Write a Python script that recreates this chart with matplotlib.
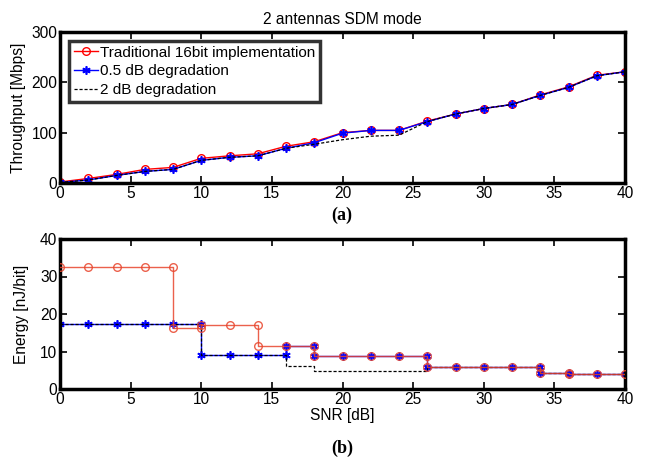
import numpy as np
import matplotlib.pyplot as plt

plt.rcParams['font.family'] = ['Liberation Sans', 'DejaVu Sans']

# throughput vs SNR (top panel)
snr = [0, 2, 4, 6, 8, 10, 12, 14, 16, 18, 20, 22, 24, 26, 28, 30, 32, 34, 36, 38, 40]
thr_16bit = [2, 9, 17, 27, 31, 49, 54, 58, 73, 82, 100, 104.5, 104.5, 123, 137, 148, 156, 175, 191, 214, 221]
thr_05db = [1, 6, 15, 23, 27, 45, 51, 54, 69, 80, 99, 104.5, 104.5, 122, 137, 148, 156, 174, 190, 213, 221]
thr_2db = [1, 6, 15, 23, 27, 45, 51, 54, 69, 77, 86, 93, 95, 122, 137, 148, 156, 174, 190, 213, 221]

# energy per bit vs SNR (bottom panel), steps drawn with repeated x
e_16bit_x = [0, 2, 4, 6, 8, 8, 10, 10, 12, 14, 14, 16, 18, 18, 20, 22, 24, 26, 26, 28, 30, 32, 34, 34, 36, 36, 38, 40]
e_16bit_y = [32.5, 32.5, 32.5, 32.5, 32.5, 16.2, 16.2, 17.1, 17.1, 17.1, 11.5, 11.5, 11.5,
             8.8, 8.8, 8.8, 8.8, 8.8, 5.9, 5.9, 5.9, 5.9, 5.9, 4.4, 4.4, 3.9, 3.9, 3.9]
e_05db_x = [0, 2, 4, 6, 8, 10, 10, 12, 14, 16, 16, 18, 18, 20, 22, 24, 26, 26, 28, 30, 32, 34, 34, 36, 36, 38, 40]
e_05db_y = [17.4] * 6 + [9.0] * 4 + [11.5] * 2 + [8.8] * 5 + [5.9] * 5 + [4.4] * 2 + [3.9] * 3
e_2db_x = [0, 2, 4, 6, 8, 10, 10, 12, 14, 16, 16, 18, 18, 20, 22, 24, 26, 26, 28, 30, 32, 34, 34, 36, 36, 38, 40]
e_2db_y = [17.4] * 6 + [9.0] * 4 + [6.2] * 2 + [4.8] * 5 + [5.9] * 5 + [4.4] * 2 + [3.9] * 3

star = (6, 2, 0)  # asterisk marker like matlab '*'

fig = plt.figure(figsize=(6.45, 4.59), dpi=100)
W, H = 645, 459
ax1 = fig.add_axes([60 / W, 1 - 183 / H, 565 / W, 151 / H])
ax2 = fig.add_axes([60 / W, 1 - 389 / H, 565 / W, 150 / H])

ax1.plot(snr, thr_16bit, '-o', color='red', mfc='none', ms=5.5, lw=1, label='Traditional 16bit implementation')
ax1.plot(snr, thr_05db, '-', marker=star, color='blue', ms=6, mew=1.2, lw=1, label='0.5 dB degradation')
ax1.plot(snr, thr_2db, '--', color='black', lw=0.9, dashes=(2.5, 1.5), label='2 dB degradation')

# bottom: red curve sits on top of the blue one
ax2.plot(e_05db_x, e_05db_y, '-', marker=star, color='blue', ms=6, mew=1.2, lw=1, zorder=2)
ax2.plot(e_2db_x, e_2db_y, '--', color='black', lw=0.9, dashes=(2.5, 1.5), zorder=3)
ax2.plot(e_16bit_x, e_16bit_y, '-o', color='#e8452c', mfc='none', ms=5.5, lw=1, alpha=0.85, zorder=4)

ax1.set_ylim(0, 300)
ax1.set_yticks([0, 100, 200, 300])
ax2.set_ylim(0, 40)
ax2.set_yticks([0, 10, 20, 30, 40])
for ax in (ax1, ax2):
    ax.set_xlim(0, 40)
    ax.set_xticks(range(0, 41, 5))
    ax.tick_params(direction='in', top=True, right=True, length=5, width=1.2,
                   labelsize=11.2, pad=2)
    for s in ax.spines.values():
        s.set_linewidth(2.5)

ax1.set_title('2 antennas SDM mode', fontsize=11.2, pad=6)
ax1.set_ylabel('Throughput [Mbps]', fontsize=11.2, labelpad=4)
ax2.set_ylabel('Energy [nJ/bit]', fontsize=11.2, labelpad=8)
ax2.set_xlabel('SNR [dB]', fontsize=11.2, labelpad=1)

leg = ax1.legend(loc='upper left', fontsize=11, frameon=True, fancybox=False,
                 handlelength=1.6, handletextpad=0.15, borderpad=0.3,
                 labelspacing=0.3, borderaxespad=0.6)
leg.get_frame().set_edgecolor('black')
leg.get_frame().set_linewidth(2.5)

fig.text(342 / W, 1 - 215 / H, '(a)', ha='center', va='center',
         family='Liberation Serif', fontweight='bold', fontsize=13)
fig.text(342 / W, 1 - 448 / H, '(b)', ha='center', va='center',
         family='Liberation Serif', fontweight='bold', fontsize=13)

fig.savefig('out.png', dpi=100)
